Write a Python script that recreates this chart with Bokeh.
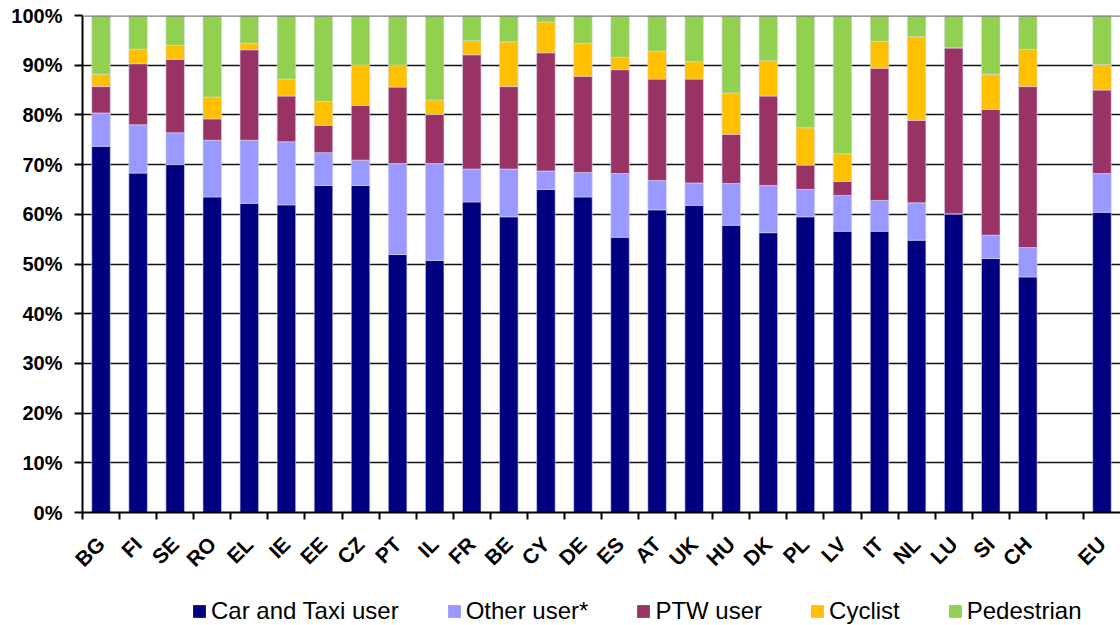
from math import pi
from bokeh.plotting import figure
from bokeh.layouts import column
from bokeh.models import (Range1d, FixedTicker, Span, Legend, LegendItem,
                          ColumnDataSource)
from bokeh.embed import file_html
from bokeh.resources import INLINE

countries = ["BG", "FI", "SE", "RO", "EL", "IE", "EE", "CZ", "PT", "IL", "FR",
             "BE", "CY", "DE", "ES", "AT", "UK", "HU", "DK", "PL", "LV", "IT",
             "NL", "LU", "SI", "CH", "EU"]
car = [73.7, 68.3, 70.0, 63.5, 62.2, 61.9, 65.8, 65.8, 51.9, 50.7, 62.5,
       59.5, 65.0, 63.5, 55.4, 60.9, 61.8, 57.8, 56.3, 59.5, 56.6, 56.6,
       54.8, 60.1, 51.1, 47.4, 60.4]
other = [6.7, 9.7, 6.4, 11.4, 12.7, 12.7, 6.6, 5.1, 18.3, 19.5, 6.6,
         9.6, 3.7, 4.9, 12.8, 5.9, 4.5, 8.4, 9.5, 5.5, 7.2, 6.2,
         7.5, 0.0, 4.7, 5.9, 7.8]
ptw = [5.3, 12.3, 14.8, 4.3, 18.2, 9.2, 5.5, 11.0, 15.4, 9.9, 23.0,
       16.6, 23.8, 19.4, 20.9, 20.4, 20.9, 9.9, 18.0, 4.9, 2.8, 26.6,
       16.6, 33.4, 25.3, 32.4, 16.8]
cyclist = [2.5, 2.9, 2.8, 4.4, 1.3, 3.4, 4.8, 8.1, 4.4, 2.9, 2.8,
           9.0, 6.2, 6.6, 2.5, 5.6, 3.5, 8.3, 7.1, 7.5, 5.6, 5.4,
           16.8, 0.0, 7.1, 7.5, 5.1]
pedestrian = [11.8, 6.8, 6.0, 16.4, 5.6, 12.8, 17.3, 10.0, 10.0, 17.0, 5.1,
              5.3, 1.3, 5.6, 8.4, 7.2, 9.3, 15.6, 9.1, 22.6, 27.8, 5.2,
              4.3, 6.5, 11.8, 6.8, 9.9]
series_names = ["Car and Taxi user", "Other user*", "PTW user", "Cyclist",
                "Pedestrian"]
colors = ["#000080", "#9999FF", "#993366", "#FFC000", "#92D050"]
y_ticks = [0, 10, 20, 30, 40, 50, 60, 70, 80, 90, 100]

# category slots: 26 countries, one empty slot, then EU
xpos = [i + 0.5 for i in range(26)] + [27.5]

source = ColumnDataSource(dict(x=xpos, car=car, other=other, ptw=ptw,
                               cyclist=cyclist, pedestrian=pedestrian))

FONT = "Liberation Sans"

p = figure(width=1120, height=584, output_backend="svg", toolbar_location=None,
           x_range=Range1d(0, 28), y_range=Range1d(0, 100),
           min_border_left=82, min_border_right=0, min_border_top=15,
           min_border_bottom=72)
p.outline_line_color = None
p.background_fill_color = "white"

renderers = p.vbar_stack(["car", "other", "ptw", "cyclist", "pedestrian"],
                         x="x", width=0.5, color=colors, line_color="#D8D8F0",
                         line_width=0.6, source=source)

# grid
p.xgrid.visible = False
p.ygrid.ticker = FixedTicker(ticks=y_ticks[1:-1])
p.ygrid.grid_line_color = "#111111"
p.ygrid.grid_line_width = 1.5

top_line = Span(location=100, dimension="width", line_color="#808080",
                line_width=2.5, level="overlay")
p.add_layout(top_line)

# y axis
p.yaxis.ticker = FixedTicker(ticks=y_ticks)
p.yaxis.major_label_overrides = {t: f"{t}%" for t in y_ticks}
p.yaxis.axis_line_color = "black"
p.yaxis.axis_line_width = 2
p.yaxis.major_tick_in = 0
p.yaxis.major_tick_out = 8
p.yaxis.major_tick_line_width = 2
p.yaxis.minor_tick_line_color = None
p.yaxis.major_label_text_font = FONT
p.yaxis.major_label_text_font_style = "bold"
p.yaxis.major_label_text_font_size = "20px"
p.yaxis.major_label_text_color = "black"
p.yaxis.major_label_standoff = 12

# x axis
p.xaxis.ticker = FixedTicker(ticks=xpos, minor_ticks=list(range(0, 28)))
p.xaxis.major_label_overrides = {x: c for x, c in zip(xpos, countries)}
p.xaxis.major_label_orientation = pi / 4
p.xaxis.axis_line_color = "black"
p.xaxis.axis_line_width = 2
p.xaxis.major_tick_line_color = None
p.xaxis.major_tick_in = 0
p.xaxis.major_tick_out = 7
p.xaxis.minor_tick_in = 0
p.xaxis.minor_tick_out = 7
p.xaxis.minor_tick_line_width = 2
p.xaxis.minor_tick_line_color = "black"
p.xaxis.major_label_text_font = FONT
p.xaxis.major_label_text_font_style = "bold"
p.xaxis.major_label_text_font_size = "21px"
p.xaxis.major_label_text_color = "black"
p.xaxis.major_label_standoff = 21

# legend strip below the chart
leg = figure(width=1120, height=41, output_backend="svg", toolbar_location=None,
             x_range=Range1d(0, 1), y_range=Range1d(0, 1),
             x_axis_type=None, y_axis_type=None,
             min_border_left=82, min_border_right=0, min_border_top=0,
             min_border_bottom=0)
leg.outline_line_color = None
leg_renderers = [leg.vbar(x=[5], top=[5], width=1, color=c, line_color=None)
                 for c in colors]
legend = Legend(items=[LegendItem(label=n, renderers=[r])
                       for n, r in zip(series_names, leg_renderers)],
                orientation="horizontal", location=(109, 0),
                label_text_font=FONT, label_text_font_size="24px",
                label_text_color="black", glyph_width=16, glyph_height=16,
                label_standoff=4, spacing=47, padding=0, margin=0,
                border_line_color=None, background_fill_alpha=0)
leg.add_layout(legend, "center")

layout = column(p, leg, spacing=0)
open("out.html", "w").write(file_html(layout, INLINE))
